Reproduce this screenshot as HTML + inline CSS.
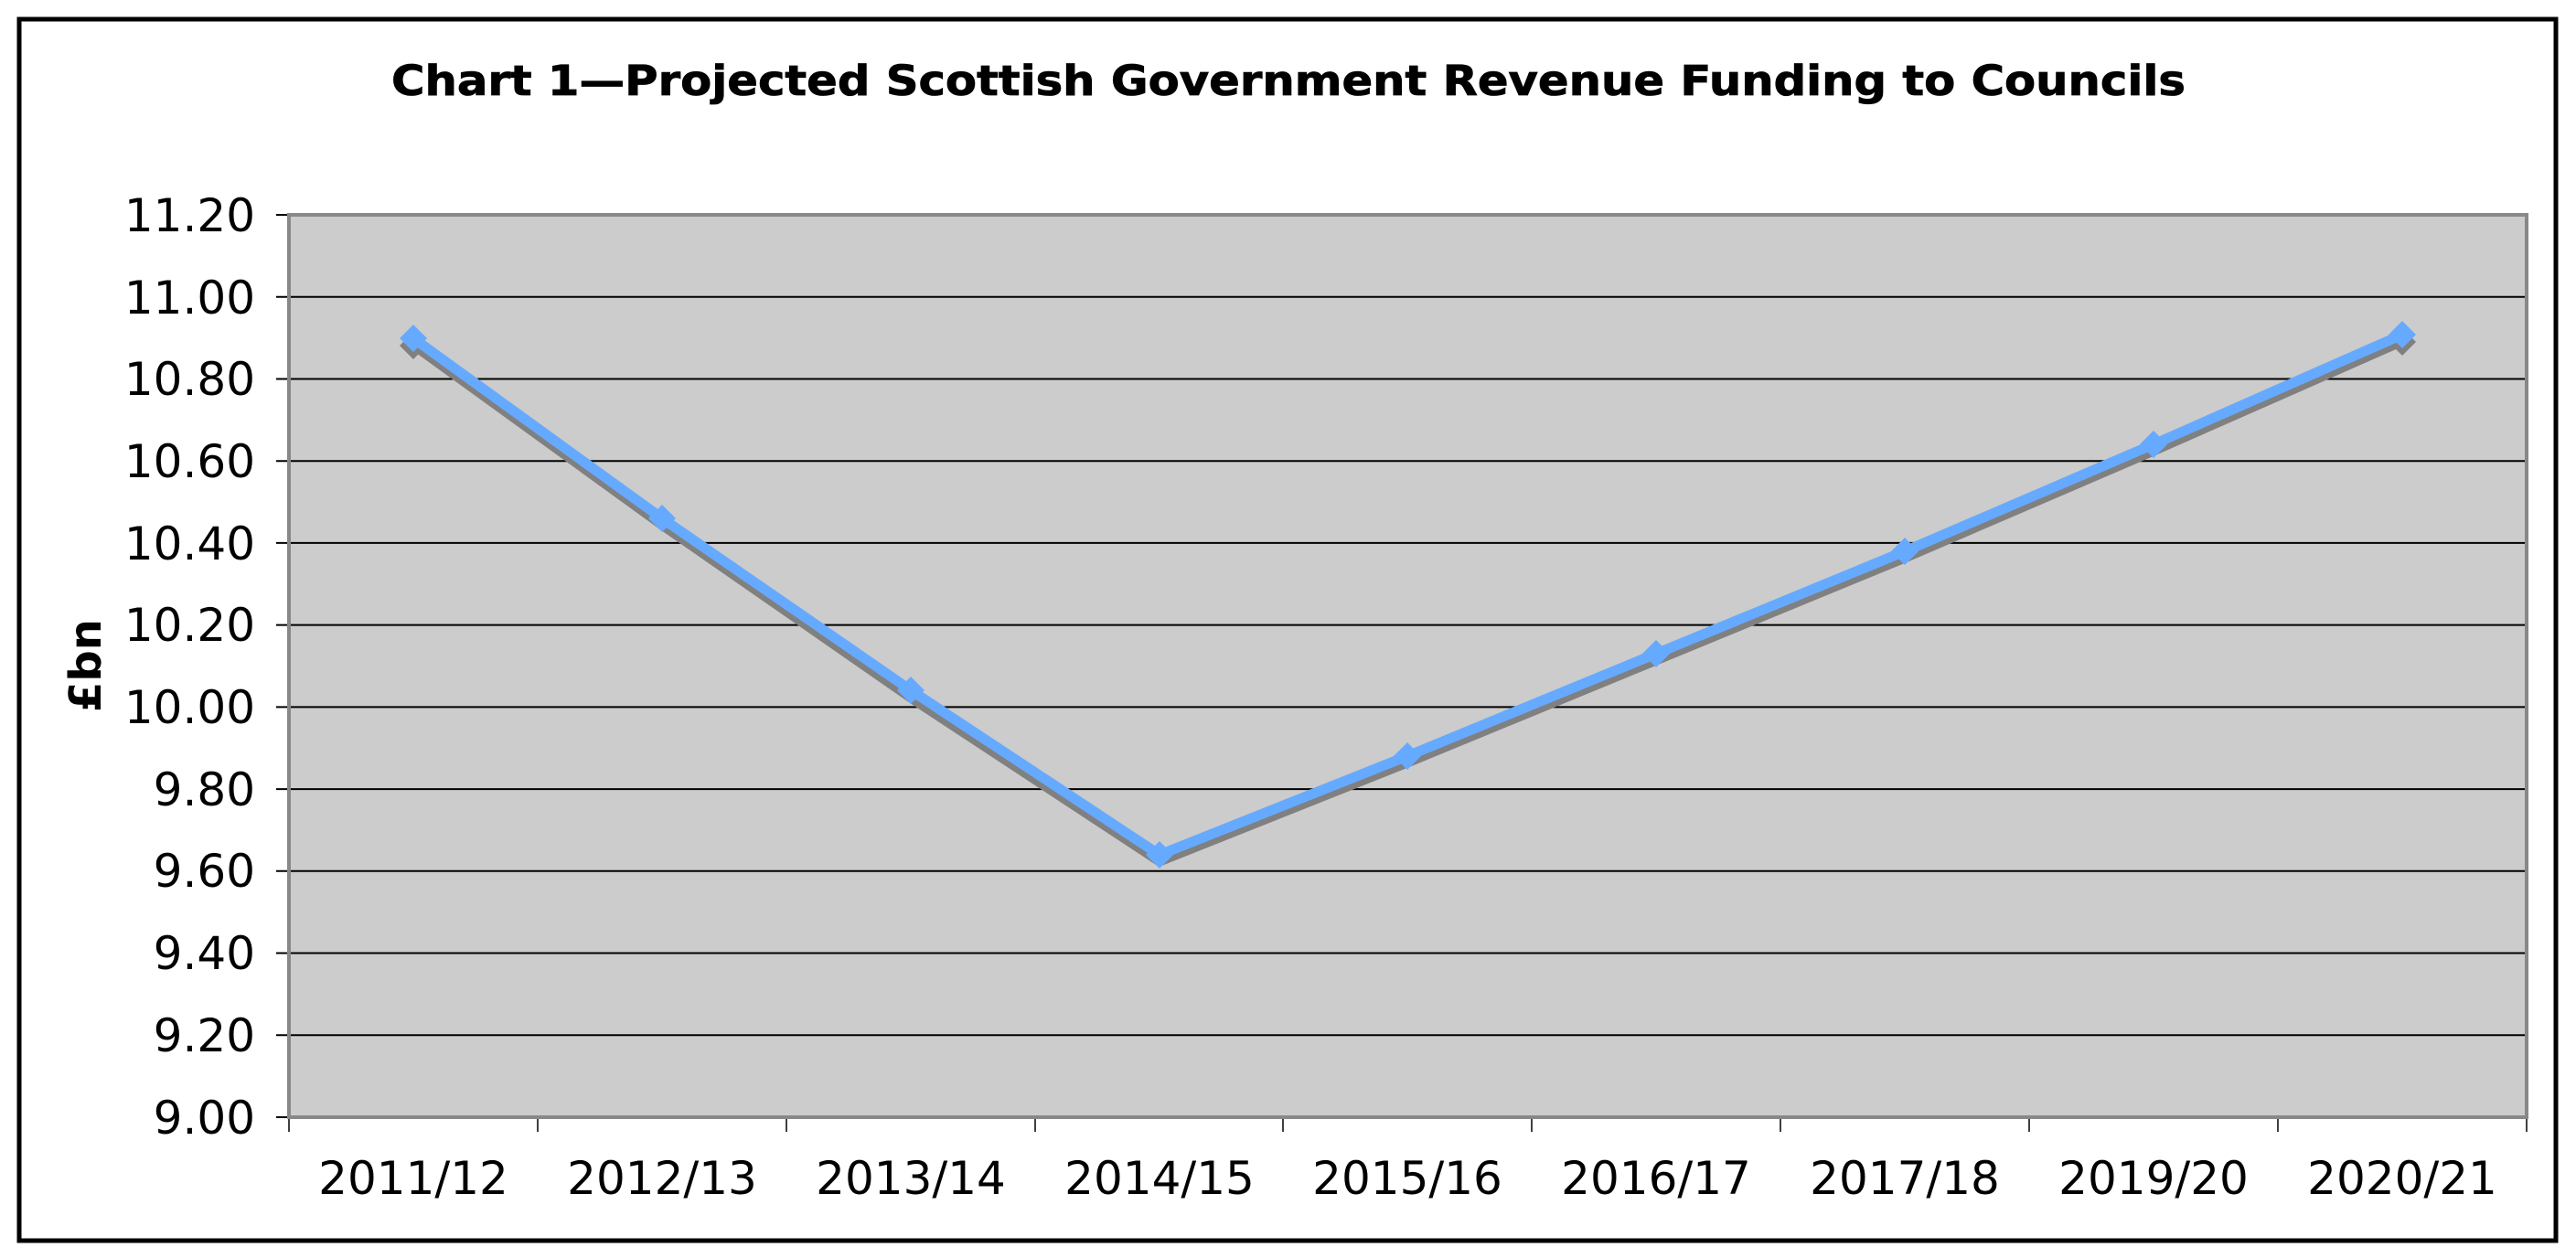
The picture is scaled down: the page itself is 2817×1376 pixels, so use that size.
<!DOCTYPE html>
<html><head><meta charset="utf-8"><style>
html,body{margin:0;padding:0;background:#fff;}
svg{display:block;}
text{font-family:"DejaVu Sans","Liberation Sans",sans-serif;}
</style></head><body>
<svg width="2817" height="1376" viewBox="0 0 2817 1376" xmlns="http://www.w3.org/2000/svg">
<rect x="0" y="0" width="2817" height="1376" fill="#fff"/>
<rect x="21" y="21" width="2774" height="1336" fill="none" stroke="#000" stroke-width="5"/>
<text x="1409" y="104" text-anchor="middle" font-size="45" font-weight="bold" textLength="1962" lengthAdjust="spacingAndGlyphs" stroke="#000" stroke-width="0.8">Chart 1—Projected Scottish Government Revenue Funding to Councils</text>
<rect x="316" y="235" width="2447" height="987" fill="#cccccc"/>
<g stroke="#000" stroke-width="2">
<line x1="302" y1="235" x2="2763" y2="235"/>
<line x1="302" y1="324.7" x2="2763" y2="324.7"/>
<line x1="302" y1="414.5" x2="2763" y2="414.5"/>
<line x1="302" y1="504.2" x2="2763" y2="504.2"/>
<line x1="302" y1="593.9" x2="2763" y2="593.9"/>
<line x1="302" y1="683.6" x2="2763" y2="683.6"/>
<line x1="302" y1="773.4" x2="2763" y2="773.4"/>
<line x1="302" y1="863.1" x2="2763" y2="863.1"/>
<line x1="302" y1="952.8" x2="2763" y2="952.8"/>
<line x1="302" y1="1042.5" x2="2763" y2="1042.5"/>
<line x1="302" y1="1132.3" x2="2763" y2="1132.3"/>
<line x1="302" y1="1222" x2="2763" y2="1222"/>
</g>
<g stroke="#000" stroke-width="1.5">
<line x1="316" y1="1222" x2="316" y2="1238"/><line x1="588" y1="1222" x2="588" y2="1238"/><line x1="860" y1="1222" x2="860" y2="1238"/><line x1="1132" y1="1222" x2="1132" y2="1238"/><line x1="1403" y1="1222" x2="1403" y2="1238"/><line x1="1675" y1="1222" x2="1675" y2="1238"/><line x1="1947" y1="1222" x2="1947" y2="1238"/><line x1="2219" y1="1222" x2="2219" y2="1238"/><line x1="2491" y1="1222" x2="2491" y2="1238"/><line x1="2763" y1="1222" x2="2763" y2="1238"/>
</g>
<rect x="316" y="235" width="2447" height="987" fill="none" stroke="#888" stroke-width="4"/>
<g font-size="50" text-anchor="end">
<text x="279" y="253">11.20</text><text x="279" y="343">11.00</text><text x="279" y="432">10.80</text><text x="279" y="522">10.60</text><text x="279" y="612">10.40</text><text x="279" y="701">10.20</text><text x="279" y="791">10.00</text><text x="279" y="881">9.80</text><text x="279" y="970">9.60</text><text x="279" y="1060">9.40</text><text x="279" y="1150">9.20</text><text x="279" y="1240">9.00</text>
</g>
<g font-size="50" text-anchor="middle">
<text x="452" y="1306">2011/12</text><text x="724" y="1306">2012/13</text><text x="996" y="1306">2013/14</text><text x="1268" y="1306">2014/15</text><text x="1539" y="1306">2015/16</text><text x="1811" y="1306">2016/17</text><text x="2083" y="1306">2017/18</text><text x="2355" y="1306">2019/20</text><text x="2627" y="1306">2020/21</text>
</g>
<text transform="translate(110,728) rotate(-90)" font-size="48" font-weight="bold" text-anchor="middle">£bn</text>
<g fill="#808080">
<polyline fill="none" stroke="#808080" stroke-width="11" stroke-linejoin="round" points="452,377 724,574 996,763 1268,942 1539,834 1811,722 2083,610 2355,493 2627,373"/>
<path d="M452 363 l15 15 l-15 15 l-15 -15z"/><path d="M2627 359 l15 15 l-15 15 l-15 -15z"/>
</g>
<g fill="#66aaff">
<polyline fill="none" stroke="#66aaff" stroke-width="11" stroke-linejoin="round" points="452,370 724,567 996,755 1268,935 1539,827 1811,715 2083,603 2355,486 2627,366"/>
<path d="M452 355 l15 15 l-15 15 l-15 -15z"/><path d="M724 552 l15 15 l-15 15 l-15 -15z"/><path d="M996 740 l15 15 l-15 15 l-15 -15z"/><path d="M1268 920 l15 15 l-15 15 l-15 -15z"/><path d="M1539 812 l15 15 l-15 15 l-15 -15z"/><path d="M1811 700 l15 15 l-15 15 l-15 -15z"/><path d="M2083 588 l15 15 l-15 15 l-15 -15z"/><path d="M2355 471 l15 15 l-15 15 l-15 -15z"/><path d="M2627 351 l15 15 l-15 15 l-15 -15z"/>
</g>
</svg>
</body></html>
